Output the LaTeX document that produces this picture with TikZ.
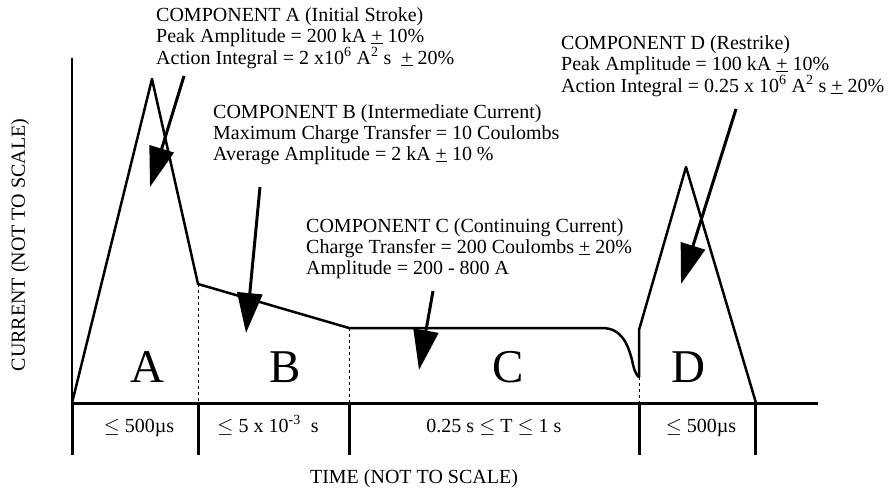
\documentclass[tikz,border=0pt]{standalone}
\usepackage{fontspec}
\setmainfont{Liberation Serif}
\usetikzlibrary{arrows.meta}

\begin{document}
\begin{tikzpicture}[x=1pt,y=-1pt,
  wave/.style={line width=2.5pt,line join=round},
  callout/.style={line width=3pt,-{Triangle[length=40pt,width=25pt]}},
  note/.style={anchor=north west,align=left,inner sep=0pt,
    font=\fontsize{20}{21}\selectfont},
  region/.style={anchor=base,inner sep=0pt,font=\fontsize{47}{50}\selectfont},
  span/.style={anchor=base,inner sep=0pt,font=\fontsize{20}{22}\selectfont},
  tickmark/.style={line width=3pt},
  guide/.style={line width=0.8pt,dash pattern=on 3pt off 3pt}]

\useasboundingbox (0,0) rectangle (888,487);

% axes
\coordinate (o) at (72,403);
\coordinate (ytop) at (72,58);
\coordinate (xend) at (818,403);
\draw[line width=2.5pt] (ytop) -- (o);
\draw[line width=3pt] (o) -- (xend);
\foreach \x in {72,198,349,639,755}
  \draw[tickmark] (\x,403) -- (\x,455);

% waveform
\coordinate (apk) at (152,79);
\coordinate (aend) at (198,284);
\coordinate (bend) at (349,328);
\coordinate (cflat) at (602,328);
\coordinate (cend) at (639,377);
\coordinate (dstart) at (639,330);
\coordinate (dpk) at (686,167);
\coordinate (dend) at (756,403);
\draw[wave] (o) -- (apk) -- (aend) -- (bend) -- (cflat)
  .. controls (622,328) and (628,345) .. (632,360)
  .. controls (634,370) and (636,375) .. (cend) -- (dstart) -- (dpk) -- (dend);
\draw[guide] (aend) -- (aend |- o);
\draw[guide] (bend) -- (bend |- o);
\draw[guide] (cend) -- (cend |- o);

% region letters
\node[region] (la) at (147,382) {A};
\node[region] (lb) at (285,382) {B};
\node[region] (lc) at (508,382) {C};
\node[region] (ld) at (688,382) {D};

% notes
\node[note] (na) at (156,7) {COMPONENT A (Initial Stroke)\\
  Peak Amplitude = 200 kA \underline{+} 10\%\\
  Action Integral = 2 x10\textsuperscript{6} A\textsuperscript{2} s \ \underline{+} 20\%};
\node[note] (nb) at (213,104) {COMPONENT B (Intermediate Current)\\
  Maximum Charge Transfer = 10 Coulombs\\
  Average Amplitude = 2 kA \underline{+} 10 \%};
\node[note] (nc) at (306,218) {COMPONENT C (Continuing Current)\\
  Charge Transfer = 200 Coulombs \underline{+} 20\%\\
  Amplitude = 200 - 800 A};
\node[note] (nd) at (561,35) {COMPONENT D (Restrike)\\
  Peak Amplitude = 100 kA \underline{+} 10\%\\
  Action Integral = 0.25 x 10\textsuperscript{6} A\textsuperscript{2} s \underline{+} 20\%};

% callout arrows
\coordinate (sa) at (184,76);  \coordinate (ta) at (150,187);
\coordinate (sb) at (260,187); \coordinate (tb) at (246,333);
\coordinate (sc) at (433,291); \coordinate (tc) at (419,370);
\coordinate (sd) at (736,109); \coordinate (td) at (681,284);
\draw[callout] (sa) -- (ta);
\draw[callout] (sb) -- (tb);
\draw[callout] (sc) -- (tc);
\draw[callout] (sd) -- (td);

% time spans
\node[span] (ta1) at (139,432) {$\leq$ 500\textmu s};
\node[span] (tb1) at (268,432) {$\leq$ 5 x 10\textsuperscript{-3} \ s};
\node[span] (tc1) at (494,432) {0.25 s $\leq$ T $\leq$ 1 s};
\node[span] (td1) at (701,432) {$\leq$ 500\textmu s};

% axis titles
\node[span] (xt) at (414,483) {TIME (NOT TO SCALE)};
\node[inner sep=0pt,rotate=90,font=\fontsize{20}{22}\selectfont] (yt) at (20,245)
  {CURRENT (NOT TO SCALE)};
\end{tikzpicture}
\end{document}
